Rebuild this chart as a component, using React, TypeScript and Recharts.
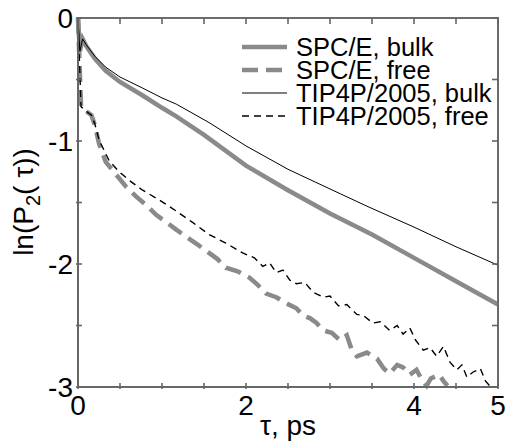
import React from "react"
import { Line, LineChart, ReferenceArea, XAxis, YAxis } from "recharts"

const GRAY = "#8a8a8a"
const FRAME = "#666666"
const FONT = "'Liberation Sans', Arial, Helvetica, sans-serif"

const W = 506
const H = 441
const M = { top: 18, right: 8, bottom: 0, left: 0 }
const Y_AXIS_W = 78
const X_AXIS_H = 54

// tick positions and labels
const xTicks = [0, 0.5, 1, 1.5, 2, 2.5, 3, 3.5, 4, 4.5, 5]
const xLabels = [0, 2, 4, 5]
const yTicks = [0, -0.5, -1, -1.5, -2, -2.5, -3]
const yLabels = [0, -1, -2, -3]

// SPC/E, bulk
const spceBulkT = [0, 0.022, 0.055, 0.1, 0.2, 0.33, 0.5, 0.77, 1.0, 1.17, 1.5, 2.0, 2.5, 3.0, 3.5, 4.0, 4.5, 5.0]
const spceBulkV = [0, -0.27, -0.17, -0.23, -0.33, -0.43, -0.52, -0.63, -0.73, -0.8, -0.95, -1.2, -1.4, -1.59, -1.76, -1.95, -2.14, -2.33]

// SPC/E, free
const spceFreeT = [0, 0.036, 0.1, 0.16, 0.2, 0.25, 0.33, 0.45, 0.57, 0.69, 0.81, 0.93, 1.05, 1.17, 1.29, 1.42, 1.56, 1.66, 1.76, 1.9, 2.04, 2.14, 2.24, 2.36, 2.48, 2.6, 2.68, 2.76, 2.84, 2.92, 3.02, 3.12, 3.2, 3.26, 3.32, 3.44, 3.56, 3.64, 3.71, 3.8, 3.87, 3.95, 4.03, 4.1, 4.15, 4.2, 4.3, 4.36, 4.4]
const spceFreeV = [0, -0.72, -0.76, -0.79, -0.87, -1.02, -1.17, -1.27, -1.37, -1.45, -1.52, -1.6, -1.66, -1.72, -1.78, -1.84, -1.91, -1.96, -2.03, -2.06, -2.11, -2.17, -2.24, -2.27, -2.32, -2.36, -2.42, -2.44, -2.48, -2.54, -2.56, -2.62, -2.58, -2.7, -2.75, -2.72, -2.77, -2.85, -2.89, -2.82, -2.84, -2.9, -2.86, -2.95, -2.99, -2.93, -2.9, -2.96, -2.99]

// TIP4P/2005, bulk
const tipBulkT = [0, 0.022, 0.055, 0.1, 0.2, 0.33, 0.5, 0.77, 1.0, 1.17, 1.56, 2.0, 2.5, 3.0, 3.44, 4.0, 4.5, 5.0]
const tipBulkV = [0, -0.27, -0.17, -0.22, -0.31, -0.4, -0.48, -0.57, -0.65, -0.7, -0.85, -1.04, -1.23, -1.39, -1.53, -1.7, -1.86, -2.01]

// TIP4P/2005, free
const tipFreeT = [0, 0.036, 0.1, 0.16, 0.2, 0.25, 0.37, 0.49, 0.63, 0.77, 0.97, 1.17, 1.36, 1.56, 1.76, 1.96, 2.1, 2.2, 2.28, 2.36, 2.44, 2.52, 2.6, 2.7, 2.8, 2.92, 3.0, 3.1, 3.2, 3.32, 3.4, 3.51, 3.6, 3.71, 3.8, 3.87, 3.95, 4.02, 4.11, 4.19, 4.27, 4.35, 4.43, 4.51, 4.57, 4.63, 4.7, 4.79, 4.85, 4.9]
const tipFreeV = [0, -0.72, -0.76, -0.79, -0.86, -0.99, -1.16, -1.25, -1.33, -1.4, -1.48, -1.57, -1.66, -1.76, -1.83, -1.91, -1.95, -2.02, -1.99, -2.07, -2.05, -2.13, -2.16, -2.15, -2.23, -2.27, -2.26, -2.34, -2.33, -2.41, -2.42, -2.48, -2.47, -2.54, -2.5, -2.57, -2.52, -2.62, -2.7, -2.68, -2.75, -2.67, -2.8, -2.86, -2.82, -2.92, -2.88, -2.85, -2.95, -2.99]

const toRows = (t: number[], v: number[]) => t.map((x, i) => ({ t: x, v: v[i] }))

const series = [
   { name: "SPC/E, bulk", data: toRows(spceBulkT, spceBulkV), color: GRAY, width: 4.5, dash: undefined },
   { name: "SPC/E, free", data: toRows(spceFreeT, spceFreeV), color: GRAY, width: 4.5, dash: "16 8" },
   { name: "TIP4P/2005, bulk", data: toRows(tipBulkT, tipBulkV), color: "#000", width: 1, dash: undefined },
   { name: "TIP4P/2005, free", data: toRows(tipFreeT, tipFreeV), color: "#000", width: 1.4, dash: "7 5" },
]

const TICK = 6

// ticks point inward on all four sides; only some of them get labels
const BottomTick = ({ x, y, payload }: any) => (
   <g>
      <line x1={x} x2={x} y1={y} y2={y - TICK} stroke={FRAME} strokeWidth={1.6} />
      <line x1={x} x2={x} y1={M.top} y2={M.top + TICK} stroke={FRAME} strokeWidth={1.6} />
      {xLabels.includes(payload.value) && (
         <text x={x} y={y + 26} textAnchor="middle" fontSize={28} fontFamily={FONT} fill="#000">
            {payload.value}
         </text>
      )}
   </g>
)

const LeftTick = ({ x, y, payload }: any) => (
   <g>
      <line x1={x} x2={x + TICK} y1={y} y2={y} stroke={FRAME} strokeWidth={1.6} />
      <line x1={W - M.right} x2={W - M.right - TICK} y1={y} y2={y} stroke={FRAME} strokeWidth={1.6} />
      {yLabels.includes(payload.value) && (
         <text x={x - 3} y={y + 10} textAnchor="end" fontSize={28} fontFamily={FONT} fill="#000">
            {payload.value}
         </text>
      )}
   </g>
)

const XTitle = () => (
   <text x={288} y={435} textAnchor="middle" fontSize={28} fontFamily={FONT} fill="#000">
      τ, ps
   </text>
)

const YTitle = () => (
   <text x={33} y={202} transform="rotate(-90, 33, 202)" textAnchor="middle" fontSize={28} fontFamily={FONT} fill="#000">
      ln(P<tspan fontSize={20} dy={7}>2</tspan>
      <tspan dy={-7}>( τ))</tspan>
   </text>
)

// legend and plot frame drawn on top of the chart
const Overlay = () => (
   <svg width={W} height={H} style={{ position: "absolute", left: 0, top: 0, pointerEvents: "none" }}>
      <rect
         x={M.left + Y_AXIS_W}
         y={M.top}
         width={W - M.left - M.right - Y_AXIS_W}
         height={H - M.top - M.bottom - X_AXIS_H}
         fill="none"
         stroke={FRAME}
         strokeWidth={1.6}
      />
      {series.map((s, i) => {
         const cy = 47 + i * 23
         return (
            <g key={s.name}>
               <line x1={242} x2={287} y1={cy} y2={cy} stroke={s.color} strokeWidth={s.width} strokeDasharray={s.dash} />
               <text x={296} y={cy + 9} fontSize={25.5} fontFamily={FONT} fill="#000">
                  {s.name}
               </text>
            </g>
         )
      })}
   </svg>
)

export default function App() {
   return (
      <div style={{ position: "absolute", left: 0, top: 0, width: W, height: H }}>
         <LineChart width={W} height={H} margin={M}>
            <XAxis
               dataKey="t"
               type="number"
               domain={[0, 5]}
               ticks={xTicks}
               height={X_AXIS_H}
               tickSize={0}
               tick={<BottomTick />}
               axisLine={{ stroke: FRAME, strokeWidth: 1.6 }}
               label={<XTitle />}
            />
            <YAxis
               type="number"
               domain={[-3, 0]}
               ticks={yTicks}
               width={Y_AXIS_W}
               tickSize={0}
               tick={<LeftTick />}
               axisLine={{ stroke: FRAME, strokeWidth: 1.6 }}
               label={<YTitle />}
            />
            <ReferenceArea x1={0} x2={5} y1={-3} y2={0} fill="none" stroke={FRAME} strokeWidth={1.6} ifOverflow="visible" />
            {series.map((s) => (
               <Line
                  key={s.name}
                  data={s.data}
                  dataKey="v"
                  name={s.name}
                  type="linear"
                  stroke={s.color}
                  strokeWidth={s.width}
                  strokeDasharray={s.dash}
                  dot={false}
                  activeDot={false}
                  isAnimationActive={false}
               />
            ))}
         </LineChart>
         <Overlay />
      </div>
   )
}
